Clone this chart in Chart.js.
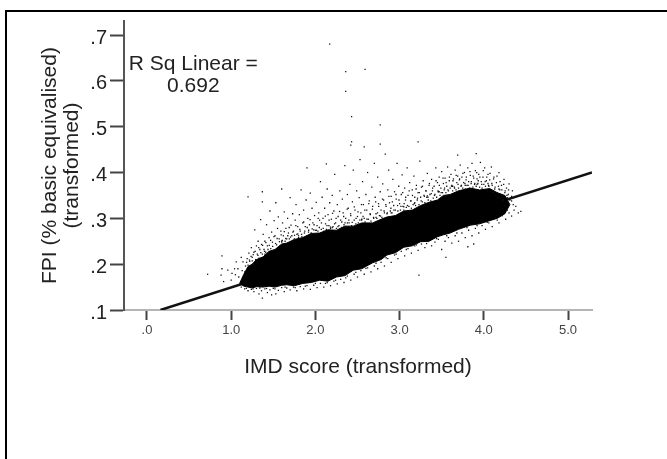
<!DOCTYPE html>
<html><head><meta charset="utf-8">
<style>
html,body{margin:0;padding:0;background:#fff;overflow:hidden}
#frame{position:absolute;left:5px;top:10px;width:670px;height:460px;border-left:2px solid #000;border-top:2px solid #000}
canvas{position:absolute;left:0;top:0;display:block;filter:blur(.35px)}
</style>
<script src="https://cdn.jsdelivr.net/npm/chart.js@4/dist/chart.umd.min.js"></script>
</head><body>
<canvas id="c" width="667" height="459"></canvas>
<div id="frame"></div>
<script>
const xTicks=[0,1,2,3,4,5];
const yTicks=[.1,.2,.3,.4,.5,.6,.7];
const xTitle="IMD score (transformed)";
const yTitle=["FPI (% basic equivalised)","(transformed)"];
const annotation=["R Sq Linear =","0.692"];
const fitLine=[{x:.16,y:.1},{x:5.285,y:.4}];
const coreX=[1.10,1.15,1.2,1.25,1.3,1.38,1.45,1.52,1.6,1.66,1.75,1.85,1.95,2.05,2.15,2.25,2.35,2.45,2.55,2.68,2.78,2.85,2.95,3.05,3.15,3.25,3.35,3.45,3.52,3.6,3.7,3.84,3.95,4.07,4.16,4.25,4.31];
const coreTop=[.158,.178,.195,.2,.21,.216,.228,.232,.244,.246,.254,.258,.267,.268,.275,.274,.283,.283,.29,.29,.298,.303,.306,.316,.318,.328,.335,.34,.35,.352,.36,.366,.362,.365,.356,.35,.33];
const coreBottom=[.158,.152,.15,.148,.151,.15,.152,.15,.154,.155,.153,.158,.16,.165,.163,.172,.175,.187,.19,.203,.21,.22,.225,.237,.24,.249,.25,.26,.264,.268,.276,.285,.288,.295,.3,.31,.33];
const outliers=[[2.17,.68],[2.36,.62],[2.59,.625],[2.36,.577],[2.43,.522],[2.77,.504],[2.43,.467],[2.42,.46],[2.58,.456],[2.77,.462],[3.22,.467],[3.91,.441],[3.69,.438],[.72,.178],[1.2,.347],[1.37,.358],[1.37,.336],[1.6,.364],[1.9,.41],[2.13,.419]];
const upperFringe=[
[.89,.218],[.89,.19],[.88,.176],[.91,.162],[.96,.187],[1.01,.18],[1,.165],[1.06,.205],[1.05,.177],[1.08,.19],[1.04,.19],[1.09,.172],
[1.12,.215],[1.14,.205],[1.16,.183],[1.17,.196],[1.19,.212],[1.2,.198],[1.21,.224],[1.22,.206],[1.24,.236],[1.25,.215],[1.26,.2],[1.27,.226],[1.28,.275],[1.29,.21],[1.3,.24],
[1.31,.222],[1.32,.25],[1.33,.213],[1.34,.232],[1.35,.297],[1.36,.243],[1.37,.222],[1.38,.265],[1.39,.232],[1.4,.25],[1.41,.226],[1.42,.286],[1.43,.24],[1.44,.222],[1.45,.258],[1.46,.316],[1.47,.234],[1.48,.27],[1.49,.248],[1.5,.23],
[1.51,.295],[1.52,.262],[1.53,.334],[1.54,.242],[1.55,.278],[1.56,.303],[1.57,.255],[1.58,.24],[1.59,.272],[1.6,.248],[1.61,.29],[1.62,.262],[1.63,.314],[1.64,.25],[1.65,.278],[1.66,.255],[1.67,.3],[1.68,.268],[1.69,.255],[1.7,.345],
[1.71,.285],[1.72,.262],[1.73,.31],[1.74,.272],[1.75,.255],[1.76,.296],[1.77,.33],[1.78,.265],[1.79,.282],[1.8,.258],[1.81,.308],[1.82,.272],[1.83,.362],[1.84,.26],[1.85,.29],[1.86,.318],[1.87,.268],[1.88,.282],[1.89,.34],[1.9,.262],
[1.91,.3],[1.92,.274],[1.93,.286],[1.94,.355],[1.95,.268],[1.96,.322],[1.97,.29],[1.98,.275],[1.99,.306],[2,.266],[2.01,.335],[2.02,.284],[2.03,.272],[2.04,.312],[2.05,.296],[2.06,.38],[2.07,.276],[2.08,.346],[2.09,.3],[2.1,.272],
[2.11,.322],[2.12,.288],[2.13,.276],[2.14,.364],[2.15,.308],[2.16,.284],[2.17,.334],[2.18,.278],[2.19,.298],[2.2,.35],[2.21,.282],[2.22,.316],[2.23,.396],[2.24,.29],[2.25,.278],[2.26,.33],[2.27,.304],[2.28,.284],[2.29,.36],[2.3,.296],
[2.31,.28],[2.32,.342],[2.33,.312],[2.34,.286],[2.35,.415],[2.36,.3],[2.37,.282],[2.38,.352],[2.39,.322],[2.4,.29],[2.41,.374],[2.42,.306],[2.43,.284],[2.44,.336],[2.45,.405],[2.46,.296],[2.47,.318],[2.48,.288],[2.49,.36],[2.5,.304],
[2.51,.29],[2.52,.345],[2.53,.428],[2.54,.312],[2.55,.296],[2.56,.38],[2.57,.33],[2.58,.3],[2.59,.292],[2.6,.352],[2.61,.318],[2.62,.4],[2.63,.298],[2.64,.338],[2.65,.31],[2.66,.294],[2.67,.368],[2.68,.326],[2.69,.302],[2.7,.42],
[2.71,.346],[2.72,.31],[2.73,.3],[2.74,.39],[2.75,.332],[2.76,.306],[2.77,.358],[2.78,.318],[2.79,.302],[2.8,.375],[2.81,.34],[2.82,.312],[2.83,.44],[2.84,.326],[2.85,.31],[2.86,.362],[2.87,.405],[2.88,.334],[2.89,.316],[2.9,.348],
[2.91,.312],[2.92,.385],[2.93,.328],[2.94,.358],[2.95,.318],[2.96,.342],[2.97,.42],[2.98,.316],[2.99,.37],[3,.332],[3.01,.318],[3.02,.352],[3.03,.395],[3.04,.326],[3.05,.318],[3.06,.366],[3.07,.34],[3.08,.324],[3.09,.41],[3.1,.35],
[3.11,.326],[3.12,.378],[3.13,.338],[3.14,.322],[3.15,.362],[3.16,.33],[3.17,.392],[3.18,.346],[3.19,.328],[3.2,.372],[3.21,.34],[3.22,.356],[3.23,.33],[3.24,.425],[3.25,.346],[3.26,.368],[3.27,.336],[3.28,.382],[3.29,.35],[3.3,.334],
[3.31,.36],[3.32,.346],[3.33,.398],[3.34,.34],[3.35,.372],[3.36,.352],[3.37,.338],[3.38,.385],[3.39,.36],[3.4,.344],[3.41,.37],[3.42,.352],[3.43,.41],[3.44,.346],[3.45,.378],[3.46,.358],[3.47,.39],[3.48,.35],[3.49,.366],[3.5,.402],
[3.51,.356],[3.52,.376],[3.53,.362],[3.54,.388],[3.55,.356],[3.56,.37],[3.57,.412],[3.58,.36],[3.59,.382],[3.6,.366],[3.61,.396],[3.62,.372],[3.63,.36],[3.64,.386],[3.65,.368],[3.66,.405],[3.67,.362],[3.68,.378],[3.69,.392],[3.7,.366],
[3.71,.384],[3.72,.416],[3.73,.37],[3.74,.39],[3.75,.366],[3.76,.378],[3.77,.4],[3.78,.364],[3.79,.384],[3.8,.372],[3.81,.41],[3.82,.38],[3.83,.366],[3.84,.394],[3.85,.376],[3.86,.42],[3.87,.368],[3.88,.388],[3.89,.374],[3.9,.404],
[3.91,.37],[3.92,.386],[3.93,.376],[3.94,.396],[3.95,.368],[3.96,.422],[3.97,.38],[3.98,.366],[3.99,.39],[4,.374],[4.01,.41],[4.02,.37],[4.03,.382],[4.04,.362],[4.05,.396],[4.06,.37],[4.07,.384],[4.08,.36],[4.09,.412],[4.1,.372],
[4.11,.356],[4.12,.39],[4.13,.364],[4.14,.35],[4.15,.378],[4.16,.356],[4.17,.346],[4.18,.4],[4.19,.362],[4.2,.344],[4.21,.372],[4.22,.35],[4.23,.34],[4.24,.385],[4.25,.356],[4.26,.345],[4.27,.366],[4.28,.338],[4.29,.352],[4.3,.375],[4.31,.34],[4.33,.348],[4.34,.36]
];
const nearEdge=[
[1.13,.186],[1.183,.204],[1.217,.209],[1.236,.217],[1.262,.221],[1.285,.228],[1.318,.219],[1.327,.236],[1.352,.225],[1.373,.241],[1.396,.228],[1.412,.247],[1.437,.232],[1.452,.241],[1.468,.252],[1.493,.239],[1.508,.26],[1.527,.245],[1.546,.256],[1.573,.249],[1.594,.264],[1.607,.252],[1.631,.271],[1.648,.256],[1.672,.262],[1.689,.28],[1.704,.259],[1.733,.27],[1.752,.263],[1.768,.284],[1.791,.266],[1.815,.276],[1.836,.265],[1.861,.292],[1.874,.272],[1.903,.28],[1.918,.27],[1.937,.297],[1.962,.277],[1.984,.286],[2.013,.274],[2.033,.3],[2.047,.28],[2.072,.29],[2.093,.278],[2.118,.305],[2.137,.284],[2.162,.296],[2.178,.281],[2.204,.311],[2.227,.288],[2.246,.3],[2.268,.282],[2.287,.315],[2.314,.292],[2.336,.304],[2.352,.29],[2.378,.32],[2.397,.296],[2.418,.31],[2.437,.291],[2.462,.325],[2.483,.3],[2.506,.314],[2.528,.296],[2.547,.33],[2.566,.304],[2.587,.318],[2.613,.298],[2.634,.332],[2.652,.308],[2.677,.32],[2.693,.3],[2.716,.336],[2.738,.312],[2.752,.326],[2.774,.305],[2.797,.342],[2.816,.316],[2.836,.33],[2.854,.312],[2.873,.348],[2.897,.322],[2.914,.336],[2.933,.318],[2.957,.352],[2.976,.328],[2.993,.34],[3.016,.326],[3.037,.356],[3.054,.332],[3.072,.346],[3.093,.328],[3.114,.36],[3.136,.338],[3.153,.35],[3.174,.332],[3.196,.364],[3.213,.344],[3.234,.356],[3.256,.338],[3.272,.37],[3.294,.348],[3.316,.36],[3.337,.346],[3.354,.376],[3.376,.354],[3.392,.366],[3.414,.35],[3.433,.382],[3.456,.36],[3.472,.372],[3.494,.356],[3.516,.388],[3.534,.366],[3.553,.378],[3.574,.362],[3.592,.39],[3.616,.37],[3.634,.382],[3.653,.366],[3.672,.394],[3.694,.374],[3.713,.386],[3.734,.372],[3.752,.398],[3.776,.376],[3.793,.39],[3.814,.372],[3.836,.402],[3.852,.38],[3.874,.392],[3.893,.376],[3.916,.4],[3.934,.382],[3.953,.39],[3.976,.374],[3.994,.404],[4.016,.38],[4.035,.39],[4.056,.372],[4.074,.398],[4.095,.376],[4.116,.386],[4.134,.368],[4.156,.392],[4.174,.37],[4.193,.38],[4.214,.362],[4.236,.374],[4.254,.36],[4.274,.35],[4.294,.362],[4.315,.344],
[3.05,.325],[3.18,.334],[3.33,.349],[3.47,.358],[3.63,.37],[3.78,.372],[3.92,.374],[4.05,.376],[4.18,.364],[4.28,.345],
[2.9,.312],[2.72,.302],[2.55,.298],[2.38,.29],[2.2,.28],[2.0,.274],[1.8,.262],[1.6,.25],[1.4,.222],[1.25,.207]
];
const lowerFringe=[
[1.12,.15],[1.16,.146],[1.2,.142],[1.24,.145],[1.27,.14],[1.3,.147],[1.33,.135],[1.36,.142],[1.37,.126],[1.4,.146],[1.43,.138],[1.46,.144],[1.48,.133],[1.5,.147],[1.53,.135],[1.56,.143],[1.6,.149],[1.63,.14],[1.66,.148],[1.7,.144],[1.74,.15],[1.78,.142],[1.82,.151],[1.86,.146],[1.9,.153],[1.94,.145],[1.98,.154],[2.02,.149],[2.06,.158],[2.1,.15],[2.14,.16],[2.18,.153],[2.22,.163],[2.26,.157],[2.3,.167],[2.34,.16],[2.38,.174],[2.42,.165],[2.46,.178],[2.5,.172],[2.54,.186],[2.58,.178],[2.62,.192],[2.66,.183],[2.7,.196],[2.74,.19],[2.78,.204],[2.82,.196],[2.86,.212],[2.9,.204],[2.94,.22],[2.98,.212],[3.02,.228],[3.06,.218],[3.1,.234],[3.14,.224],[3.18,.24],[3.22,.23],[3.23,.176],[3.26,.244],[3.3,.236],[3.34,.25],[3.38,.24],[3.42,.248],[3.46,.254],[3.5,.232],[3.55,.215],[3.54,.25],[3.58,.258],[3.62,.246],[3.66,.262],[3.7,.25],[3.74,.268],[3.78,.258],[3.81,.238],[3.82,.274],[3.86,.262],[3.88,.244],[3.9,.278],[3.94,.268],[3.98,.284],[4.02,.276],[4.06,.29],[4.1,.282],[4.14,.3],[4.18,.29],[4.22,.306],[4.26,.298],[4.3,.312],[4.33,.305],[4.36,.318],[4.41,.312],[4.38,.326],[4.44,.315],
[1.18,.147],[1.26,.146],[1.34,.148],[1.42,.147],[1.52,.146],[1.64,.15],[1.76,.149],[1.88,.152],[2.0,.158],[2.12,.158],[2.24,.165],[2.36,.17],[2.48,.182],[2.6,.191],[2.72,.202],[2.84,.214],[2.96,.222],[3.08,.232],[3.2,.242],[3.32,.245],[3.44,.256],[3.56,.262],[3.68,.268],[3.8,.28],[3.92,.284],[4.04,.291],[4.16,.296],[4.28,.318],[4.35,.33],[4.33,.338]
];
const toPts=a=>a.map(p=>({x:p[0],y:p[1]}));
const textPlugin={id:'rsq',afterDraw(ch){
  const {ctx,scales:{x,y}}=ch;
  ctx.save();ctx.font='21px "Liberation Sans"';ctx.fillStyle='#222';ctx.textAlign='center';ctx.textBaseline='middle';
  ctx.fillText(annotation[0],x.getPixelForValue(.55),y.getPixelForValue(.637));
  ctx.fillText(annotation[1],x.getPixelForValue(.55),y.getPixelForValue(.589));
  ctx.restore();
}};
const dot={type:'scatter',showLine:false,pointStyle:'rect',pointRadius:.9,pointBackgroundColor:'#111',pointBorderWidth:0};
new Chart(document.getElementById('c'),{
  type:'scatter',
  plugins:[textPlugin],
  data:{datasets:[
    {...dot,data:toPts(outliers)},
    {...dot,data:toPts(upperFringe)},
    {...dot,data:toPts(nearEdge)},
    {...dot,data:toPts(lowerFringe)},
    {type:'line',data:coreX.map((v,i)=>({x:v,y:coreTop[i]})),borderColor:'#000',borderWidth:1,pointRadius:0,tension:0,backgroundColor:'#000',fill:'+1'},
    {type:'line',data:coreX.map((v,i)=>({x:v,y:coreBottom[i]})),borderColor:'#000',borderWidth:1,pointRadius:0,tension:0,fill:false},
    {type:'line',data:fitLine,borderColor:'#111',borderWidth:2.5,pointRadius:0,tension:0,fill:false}
  ]},
  options:{
    responsive:false,animation:false,
    layout:{padding:{top:21,right:75,left:0,bottom:0}},
    plugins:{legend:{display:false},tooltip:{enabled:false}},
    scales:{
      x:{type:'linear',min:-.273,max:5.285,
        afterBuildTicks(s){s.ticks=xTicks.map(v=>({value:v}))},
        afterFit(s){s.height=149},
        grid:{drawOnChartArea:false,drawTicks:true,tickLength:10,tickWidth:2,tickColor:'#444'},
        border:{color:'#b5b5b5',width:2},
        ticks:{autoSkip:false,maxRotation:0,padding:3,color:'#444',font:{family:'Liberation Sans',size:13},
          callback:v=>v.toFixed(1).replace(/^0/,'')},
        title:{display:true,text:xTitle,color:'#222',font:{family:'Liberation Sans',size:21,lineHeight:1.05},padding:{top:0,bottom:81}}
      },
      y:{type:'linear',min:.1,max:.7306,
        afterBuildTicks(s){s.ticks=yTicks.map(v=>({value:v}))},
        afterFit(s){s.width=124},
        grid:{drawOnChartArea:false,drawTicks:true,tickLength:14,tickWidth:2,tickColor:'#444'},
        border:{color:'#555',width:2},
        ticks:{autoSkip:false,padding:3,labelOffset:3,color:'#222',font:{family:'Liberation Sans',size:20},
          callback:v=>v.toFixed(1).replace(/^0/,'')},
        title:{display:true,text:yTitle,color:'#222',font:{family:'Liberation Sans',size:21,lineHeight:1.05},padding:{top:39,bottom:0}}
      }
    }
  }
});
</script>
</body></html>
